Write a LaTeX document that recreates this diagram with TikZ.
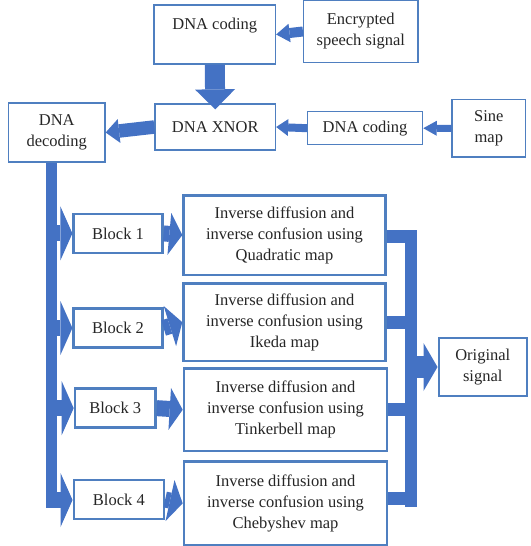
\documentclass[tikz,border=0pt]{standalone}
\usepackage{fontspec}
\setmainfont{Liberation Serif}
\usetikzlibrary{arrows.meta}
\definecolor{arrblue}{HTML}{4472C4}
\definecolor{bdblue}{HTML}{4F7FC0}
\begin{document}
\begin{tikzpicture}[x=1pt,y=-1pt,font=\fontsize{16.5}{21}\selectfont,
  box/.style={draw=bdblue, line width=1.3pt, fill=white, inner sep=0pt, align=center, text=black!85},
  tbox/.style={box, line width=2.6pt},
  blk/.style={draw=arrblue}]
\useasboundingbox (0,0) rectangle (530,546);
% top part
\node[box, minimum width=121.5pt, minimum height=59pt] (dna1) at (214.75,34.5) {DNA coding\\\mbox{}};
\node[box, minimum width=114.4pt, minimum height=62pt] (enc) at (360.8,31.5) {Encrypted\\speech signal};
\node[box, minimum width=120.5pt, minimum height=46pt] (xnor) at (215.25,127) {DNA XNOR};
\node[box, minimum width=96.5pt, minimum height=59pt] (dec) at (56.75,132.5) {DNA\\decoding};
\node[box, minimum width=115pt, minimum height=33pt] (dna2) at (365.1,128.2) {DNA coding};
\node[box, minimum width=73.7pt, minimum height=57.3pt] (sine) at (488.85,128.35) {Sine\\map};
% blocks
\node[tbox, minimum width=88.6pt, minimum height=38.8pt] (b1) at (118,233.4) {Block 1};
\node[tbox, minimum width=88.6pt, minimum height=38.9pt] (b2) at (118,328) {Block 2};
\node[tbox, minimum width=80.5pt, minimum height=39pt] (b3) at (115.25,408.15) {Block 3};
\node[tbox, minimum width=90pt, minimum height=39pt] (b4) at (118.85,499.5) {Block 4};
\node[tbox, minimum width=201.8pt, minimum height=79.4pt] (inv1) at (284.5,235.1) {Inverse diffusion and\\inverse confusion using\\Quadratic map};
\node[tbox, minimum width=201.8pt, minimum height=77.7pt] (inv2) at (284.5,322.2) {Inverse diffusion and\\inverse confusion using\\Ikeda map};
\node[tbox, minimum width=203pt, minimum height=82.5pt] (inv3) at (285.5,409.75) {Inverse diffusion and\\inverse confusion using\\Tinkerbell map};
\node[tbox, minimum width=203pt, minimum height=84pt] (inv4) at (285.5,503.35) {Inverse diffusion and\\inverse confusion using\\Chebyshev map};
\node[box, line width=2pt, minimum width=88.5pt, minimum height=58pt] (orig) at (482.75,367) {Original\\signal};
% bar coordinates
\coordinate (lbtop) at (51,162);
\coordinate (lbbot) at (51,508);
\coordinate (rbtop) at (411,230);
\coordinate (rbbot) at (411,507);
% top arrows
\draw[blk, line width=10pt, -{Triangle[length=13.5pt,width=18.6pt,line width=0pt]}] (enc.west) -- (dna1.east);
\draw[blk, line width=20pt, -{Triangle[length=20pt,width=40pt,line width=0pt]}] (dna1.south) -- ([yshift=-6pt]xnor.north);
\draw[blk, line width=13.5pt, -{Triangle[length=13.5pt,width=24pt,line width=0pt]}] (xnor.west) -- (dec.east);
\draw[blk, line width=8pt, -{Triangle[length=12pt,width=17pt,line width=0pt]}] (dna2.west) -- (xnor.east);
\draw[blk, line width=7pt, -{Triangle[length=13.5pt,width=15pt,line width=0pt]}] (sine.west) -- (dna2.east);
% left bar and branches
\draw[blk, line width=11pt] (dec.south -| lbtop) -- (lbbot);
\foreach \b in {b1,b2,b3} {
  \draw[blk, line width=16pt, -{Triangle[length=12pt,width=54pt,line width=0pt]}] (lbtop |- \b.west) -- (\b.west);
}
\draw[blk, line width=16pt, -{Triangle[length=12pt,width=54pt,line width=0pt]}] ([yshift=8pt]lbbot) -- ([yshift=8pt]lbbot -| b4.west);
% block to inverse
\foreach \b/\i in {b1/inv1,b2/inv2,b3/inv3,b4/inv4} {
  \draw[blk, line width=16pt, -{Triangle[length=13pt,width=42pt,line width=0pt]}] (\b.east) -- (\i.west);
}
% right bar
\draw[blk, line width=13pt] ([yshift=-1.5pt]inv1.east) -- ([yshift=-1.5pt]inv1.east -| rbtop);
\draw[blk, line width=13pt] (inv2.east) -- (inv2.east -| rbtop);
\draw[blk, line width=13pt] (inv3.east) -- (inv3.east -| rbtop);
\draw[blk, line width=13pt] ([yshift=4.5pt]inv4.east) -- ([yshift=4.5pt]inv4.east -| rbtop);
\draw[blk, line width=12pt] (rbtop) -- (rbbot);
\draw[blk, line width=22pt, -{Triangle[length=14pt,width=48pt,line width=0pt]}] (rbtop |- orig.west) -- (orig.west);
\end{tikzpicture}
\end{document}
